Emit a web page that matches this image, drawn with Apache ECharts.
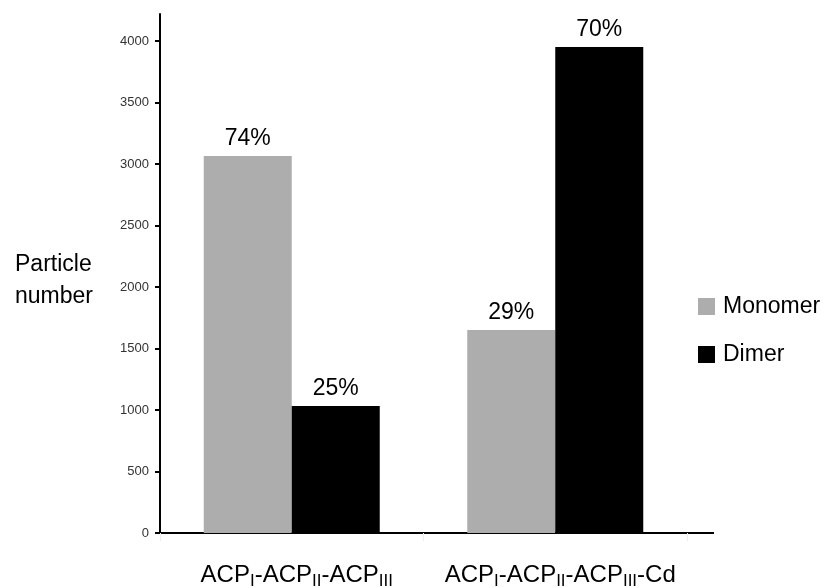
<!DOCTYPE html>
<html><head><meta charset="utf-8">
<script src="https://cdn.jsdelivr.net/npm/echarts@6/dist/echarts.min.js"></script>
<style>html,body{margin:0;padding:0;background:#fff}#c{width:828px;height:588px}</style>
</head><body><div id="c"></div>
<script>
const categories = ['{m|ACP}{s|I}{m|-ACP}{s|II}{m|-ACP}{s|III}', '{m|ACP}{s|I}{m|-ACP}{s|II}{m|-ACP}{s|III}{m|-Cd}'];
const monomer = [3065, 1650];
const dimer = [1033, 3951];
const monomerPct = ['74%', '29%'];
const dimerPct = ['25%', '70%'];
const yTicks = [0, 500, 1000, 1500, 2000, 2500, 3000, 3500, 4000];
const yTitle = 'Particle\nnumber';
const FONT = 'Liberation Sans, Arial, sans-serif';

const chart = echarts.init(document.getElementById('c'));
const gridLeft = 160, gridRight = 141, gridTop = 14, gridBottom = 55;
chart.setOption({
  animation: false,
  textStyle: {fontFamily: FONT},
  title: {text: yTitle, left: 10, top: 244,
          textStyle: {fontSize: 23, fontWeight: 'normal', color: '#000', fontFamily: FONT, lineHeight: 32}},
  grid: {left: gridLeft, right: gridRight, top: gridTop, bottom: gridBottom, outerBoundsMode: 'none', containLabel: false},
  legend: {
    orient: 'vertical', left: 693, top: 290, itemWidth: 17, itemHeight: 17, itemGap: 25,
    icon: 'rect',
    textStyle: {fontSize: 23, color: '#000', fontFamily: FONT, padding: [0, 0, 0, 3]},
    data: ['Monomer', 'Dimer']
  },
  xAxis: {
    type: 'category', data: categories,
    axisLine: {lineStyle: {color: '#000', width: 2}},
    axisTick: {show: true, length: 8, lineStyle: {color: '#eeeeee', width: 1}},
    axisLabel: {
      margin: 28, interval: 0, padding: [0, 0, 0, 10],
      rich: {
        m: {fontSize: 24, color: '#000', fontFamily: FONT, lineHeight: 26, verticalAlign: 'bottom'},
        s: {fontSize: 17, color: '#000', fontFamily: FONT, lineHeight: 17, verticalAlign: 'bottom', padding: [0, 0, -3, 0]}
      }
    }
  },
  yAxis: {
    type: 'value', min: 0, max: 4220,
    axisLine: {show: true, lineStyle: {color: '#000', width: 2}},
    axisTick: {show: true, inside: false, length: 5, customValues: yTicks, lineStyle: {color: '#000', width: 2}},
    axisLabel: {customValues: yTicks, fontSize: 13, color: '#333', margin: 11, fontFamily: FONT,
                formatter: v => String(v)},
    splitLine: {show: false}
  },
  series: [
    {name: 'Monomer', type: 'bar', data: monomer, barWidth: 88, barGap: '0%',
     itemStyle: {color: '#adadad'},
     label: {show: true, position: 'top', distance: 6, fontSize: 23, color: '#000', fontFamily: FONT,
             formatter: p => monomerPct[p.dataIndex]}},
    {name: 'Dimer', type: 'bar', data: dimer, barWidth: 88, barGap: '0%',
     itemStyle: {color: '#000'},
     label: {show: true, position: 'top', distance: 6, fontSize: 23, color: '#000', fontFamily: FONT,
             formatter: p => dimerPct[p.dataIndex]}}
  ],
  graphic: [{type: 'line', shape: {x1: 828 - gridRight, y1: 588 - gridBottom, x2: 714, y2: 588 - gridBottom},
             style: {stroke: '#000', lineWidth: 2}}]
});
</script></body></html>
